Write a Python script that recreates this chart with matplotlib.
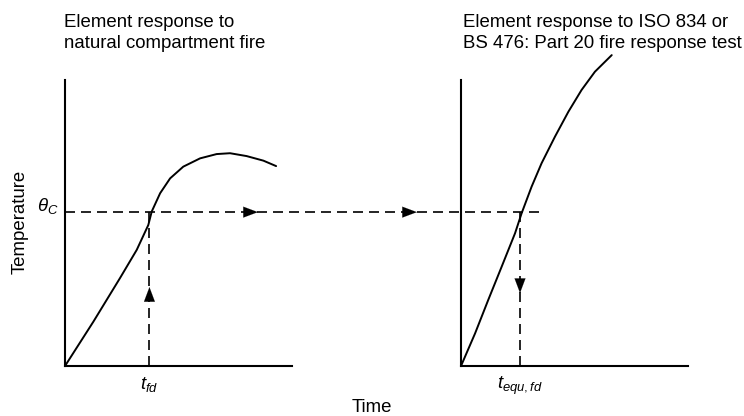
import matplotlib
matplotlib.use("Agg")
import matplotlib.pyplot as plt

plt.rcParams['font.family'] = ['Liberation Sans', 'DejaVu Sans']
plt.rcParams['mathtext.fontset'] = 'custom'
plt.rcParams['mathtext.it'] = 'Liberation Sans:italic'
plt.rcParams['mathtext.rm'] = 'Liberation Sans'

# ---- data (schematic, arbitrary units, axes 0..10) ----
natural_time = [0, 1.25, 2.42, 3.16, 3.67, 3.82, 4.19, 4.63, 5.21, 5.95, 6.68, 7.27, 8.0, 8.74, 9.30]
natural_temp = [0, 1.55, 3.07, 4.06, 4.93, 5.40, 6.04, 6.56, 6.97, 7.26, 7.41, 7.44, 7.34, 7.18, 6.99]

test_time = [0, 0.62, 1.2, 1.79, 2.38, 2.67, 3.11, 3.55, 4.14, 4.73, 5.31, 5.9, 6.64]
test_temp = [0, 1.14, 2.31, 3.47, 4.64, 5.34, 6.27, 7.09, 8.02, 8.89, 9.65, 10.29, 10.87]

theta_c = 5.38
t_fd = 3.72
t_equ_fd = 2.6
dash_end_left = 20.9      # horizontal dashed line end, in left-panel time units
arrow_h_left = 8.5
arrow_h_right = -1.94
arrow_v_left = 2.76
arrow_v_right = 2.55

title_left = ["Element response to", "natural compartment fire"]
title_right = ["Element response to ISO 834 or", "BS 476: Part 20 fire response test"]

W, H = 744, 416
fig = plt.figure(figsize=(W / 100, H / 100), dpi=100)

def px_axes(x0, x1, y0, y1):
    return fig.add_axes([x0 / W, 1 - y1 / H, (x1 - x0) / W, (y1 - y0) / H])

axL = px_axes(65, 292, 80, 366)
axR = px_axes(461, 688, 80, 366)

for ax in (axL, axR):
    ax.set_xlim(0, 10)
    ax.set_ylim(0, 10)
    ax.set_xticks([])
    ax.set_yticks([])
    for s in ('top', 'right'):
        ax.spines[s].set_visible(False)
    for s in ('left', 'bottom'):
        ax.spines[s].set_linewidth(1.5)
    ax.patch.set_alpha(0)

lw_c = 1.4
lw_d = 1.2
dash = (6, 3.6)

axL.plot(natural_time, natural_temp, color='k', lw=lw_c, clip_on=False,
         solid_capstyle='round', solid_joinstyle='round')
axR.plot(test_time, test_temp, color='k', lw=lw_c, clip_on=False,
         solid_capstyle='round', solid_joinstyle='round')

# dashed construction lines
axL.plot([0, dash_end_left], [theta_c, theta_c], color='k', lw=lw_d, dashes=dash, clip_on=False)
axL.plot([t_fd, t_fd], [0, theta_c], color='k', lw=lw_d, dashes=dash, clip_on=False)
axR.plot([t_equ_fd, t_equ_fd], [0, theta_c], color='k', lw=lw_d, dashes=dash, clip_on=False)

aprops = dict(arrowstyle='-|>,head_length=0.8,head_width=0.3', color='k', lw=0.1,
              shrinkA=0, shrinkB=0, mutation_scale=13)
axL.annotate('', xy=(arrow_h_left, theta_c), xytext=(arrow_h_left - 0.3, theta_c),
             arrowprops=aprops, annotation_clip=False)
axR.annotate('', xy=(arrow_h_right, theta_c), xytext=(arrow_h_right - 0.3, theta_c),
             arrowprops=aprops, annotation_clip=False)
axL.annotate('', xy=(t_fd, arrow_v_left), xytext=(t_fd, arrow_v_left - 0.3),
             arrowprops=aprops, annotation_clip=False)
axR.annotate('', xy=(t_equ_fd, arrow_v_right), xytext=(t_equ_fd, arrow_v_right + 0.3),
             arrowprops=aprops, annotation_clip=False)

# labels
fs = 13.4
axL.text(-0.3, theta_c + 0.2, r'$\theta_C$', ha='right', va='center', fontsize=fs)
axL.text(t_fd, -0.3, r'$t_{fd}$', ha='center', va='top', fontsize=fs)
axR.text(t_equ_fd, -0.3, r'$t_{equ,fd}$', ha='center', va='top', fontsize=fs)

fig.text(20 / W, 1 - 222 / H, 'Temperature', rotation=90, ha='center', va='center', fontsize=fs)
fig.text(372 / W, 1 - 407 / H, 'Time', ha='center', va='center', fontsize=fs)

for xpx, lines in ((64, title_left), (463, title_right)):
    fig.text(xpx / W, 1 - 26.7 / H, lines[0], ha='left', va='baseline', fontsize=fs)
    fig.text(xpx / W, 1 - 47.7 / H, lines[1], ha='left', va='baseline', fontsize=fs)

fig.savefig('out.png', dpi=100)
